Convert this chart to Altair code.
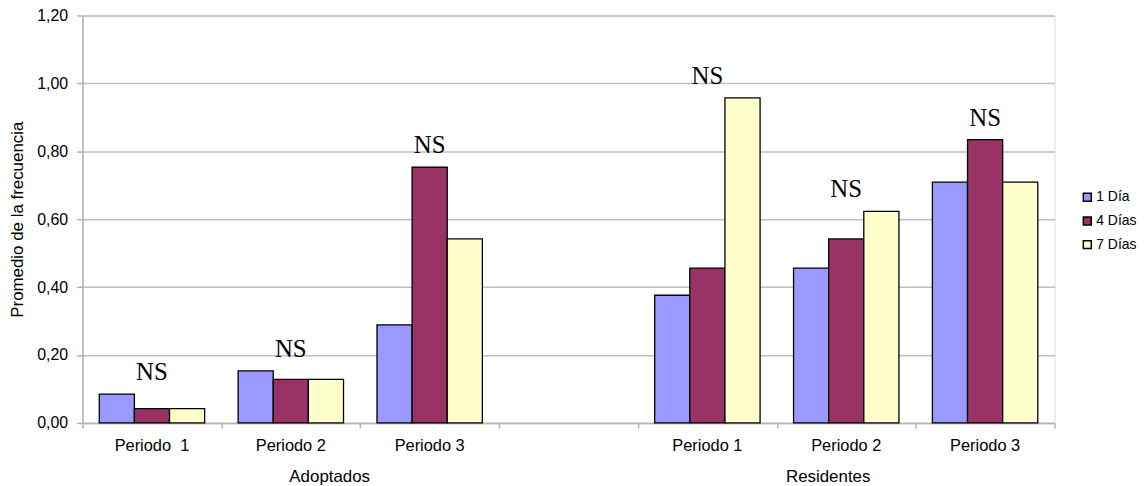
import altair as alt
import pandas as pd

# ---- data ----
categorias = ["Periodo \u00a01", "Periodo 2", "Periodo 3", "", "Periodo 1", "Periodo 2", "Periodo 3"]
series = ["1 Día", "4 Días", "7 Días"]
uno_dia = [0.085, 0.153, 0.289, None, 0.376, 0.456, 0.709]
cuatro_dias = [0.042, 0.128, 0.753, None, 0.456, 0.542, 0.834]
siete_dias = [0.042, 0.128, 0.542, None, 0.957, 0.623, 0.709]
anotaciones = ["NS", "NS", "NS", "", "NS", "NS", "NS"]
grupos = ["Adoptados", "Residentes"]
grupos_x = [1.78, 5.37]
colores = ["#9999FF", "#993366", "#FFFFCC"]

W, H = 978, 410
BW = 0.253  # bar width in category units

rows = []
for i, cat in enumerate(categorias):
    for j, (s, vals) in enumerate(zip(series, [uno_dia, cuatro_dias, siete_dias])):
        v = vals[i]
        if v is None:
            continue
        x0 = i + 0.5 + (j - 1.5) * BW
        rows.append({"serie": s, "x0": x0, "x1": x0 + BW, "valor": v, "base": 0.0})
bars_df = pd.DataFrame(rows)

ns_rows = []
for i, a in enumerate(anotaciones):
    if not a:
        continue
    top = max(uno_dia[i], cuatro_dias[i], siete_dias[i])
    ns_rows.append({"x": i + 0.5, "y": top + 0.065, "t": a})
ns_df = pd.DataFrame(ns_rows)

cat_df = pd.DataFrame({"x": [i + 0.5 for i in range(len(categorias))], "t": categorias})
grp_df = pd.DataFrame({"x": grupos_x, "t": grupos})

xscale = alt.Scale(domain=[0, 7], nice=False, zero=False)
yscale = alt.Scale(domain=[0, 1.2], nice=False)

bars = alt.Chart(bars_df).mark_bar(stroke="black", strokeWidth=1.3).encode(
    x=alt.X("x0:Q", scale=xscale,
            axis=alt.Axis(values=list(range(8)), labels=False, title=None, grid=False,
                          tickSize=5, domainColor="#B3B3B3", tickColor="#B3B3B3",
                          domainWidth=1.5, tickWidth=1.5)),
    x2="x1:Q",
    y=alt.Y("valor:Q", scale=yscale,
            axis=alt.Axis(values=[0, 0.2, 0.4, 0.6, 0.8, 1.0, 1.2],
                          labelExpr="replace(format(datum.value, '.2f'), '.', ',')",
                          title="Promedio de la frecuencia", titleFontSize=17,
                          titleFontWeight="normal", titleColor="black", titlePadding=10,
                          labelFontSize=16, labelColor="black", labelPadding=9,
                          tickSize=6, tickColor="#B3B3B3", tickWidth=1.5,
                          domainColor="#B3B3B3", domainWidth=1.5,
                          grid=True, gridColor="#BEBEBE", gridWidth=1.5)),
    y2="base:Q",
    color=alt.Color("serie:N", scale=alt.Scale(domain=series, range=colores),
                    legend=alt.Legend(title=None, orient="none", legendX=1004, legendY=176,
                                      symbolType="square", symbolSize=64,
                                      symbolStrokeColor="black", symbolStrokeWidth=1.5,
                                      labelFontSize=14, labelOffset=2, rowPadding=9.8,
                                      labelFont="Liberation Sans", labelColor="black")),
)

ns = alt.Chart(ns_df).mark_text(font="Liberation Serif", fontSize=25, baseline="middle",
                                color="black").encode(
    x=alt.X("x:Q", scale=xscale), y=alt.Y("y:Q", scale=yscale), text="t:N")

cats = alt.Chart(cat_df).mark_text(font="Liberation Sans", fontSize=16.5, baseline="middle",
                                   color="black").encode(
    x=alt.X("x:Q", scale=xscale), y=alt.value(H + 23), text="t:N")

grps = alt.Chart(grp_df).mark_text(font="Liberation Sans", fontSize=17, baseline="middle",
                                   color="black").encode(
    x=alt.X("x:Q", scale=xscale), y=alt.value(H + 54), text="t:N")

chart = alt.layer(bars, ns, cats, grps).properties(
    width=W, height=H,
    autosize=alt.AutoSizeParams(type="none"),
    padding={"left": 75, "top": 6, "right": 84, "bottom": 66},
).configure_view(stroke="#B3B3B3", strokeWidth=1.5).configure_axis(
    labelFont="Liberation Sans", titleFont="Liberation Sans"
).configure(background="white")

chart.save("out.html", embed_options={"renderer": "svg", "actions": False})
